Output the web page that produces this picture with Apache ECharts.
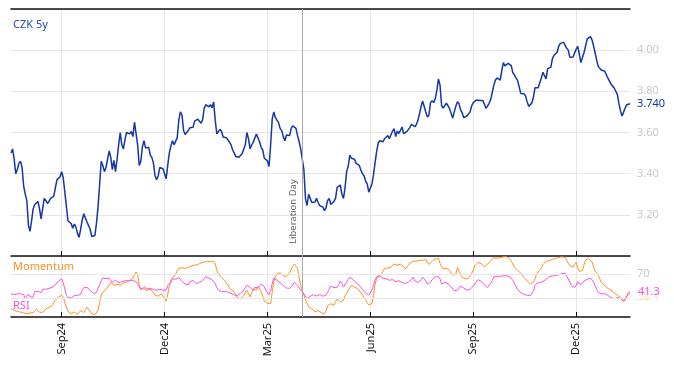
<!DOCTYPE html>
<html><head><meta charset="utf-8">
<script src="https://cdn.jsdelivr.net/npm/echarts@6.0.0/dist/echarts.min.js"></script>
<style>html,body{margin:0;padding:0;background:#fff}#c{width:674px;height:366px}</style>
</head><body><div id="c"></div>
<script>
// ---- data ----
const startDate = '2024-07-18';           // first business day shown
const tickDates = ['2024-09-02','2024-12-02','2025-03-03','2025-06-02','2025-09-01','2025-12-01'];
const tickLabels = ['Sep24','Dec24','Mar25','Jun25','Sep25','Dec25'];
const eventDate = '2025-04-02';
const eventLabel = 'Liberation Day';
const seriesNames = ['CZK 5y','Momentum','RSI'];

const czk5y = [
3.50,3.52,3.47,3.40,3.42,3.45,3.46,3.43,3.34,3.30,
3.27,3.15,3.12,3.17,3.23,3.25,3.244,3.265,3.23,3.18,
3.23,3.28,3.27,3.255,3.265,3.28,3.285,3.29,3.33,3.37,
3.375,3.385,3.41,3.38,3.31,3.24,3.17,3.165,3.158,3.135,
3.155,3.14,3.11,3.09,3.13,3.175,3.205,3.185,3.165,3.16,
3.13,3.095,3.095,3.10,3.16,3.24,3.35,3.46,3.44,3.41,
3.43,3.47,3.51,3.48,3.42,3.465,3.41,3.47,3.54,3.60,
3.54,3.52,3.565,3.60,3.60,3.593,3.605,3.58,3.65,3.656,
3.54,3.44,3.46,3.53,3.56,3.525,3.52,3.528,3.49,3.478,
3.45,3.39,3.37,3.39,3.43,3.43,3.424,3.42,3.375,3.44,
3.50,3.535,3.56,3.54,3.54,3.575,3.66,3.70,3.685,3.61,
3.59,3.59,3.61,3.623,3.62,3.625,3.655,3.66,3.665,3.66,
3.645,3.66,3.716,3.735,3.738,3.725,3.735,3.72,3.748,3.66,
3.593,3.605,3.615,3.605,3.578,3.577,3.575,3.565,3.568,3.54,
3.515,3.50,3.483,3.475,3.48,3.478,3.498,3.507,3.54,3.60,
3.57,3.52,3.54,3.552,3.573,3.592,3.583,3.555,3.528,3.515,
3.475,3.466,3.462,3.435,3.54,3.665,3.70,3.672,3.678,3.648,
3.62,3.609,3.58,3.56,3.588,3.593,3.585,3.62,3.632,3.633,
3.62,3.585,3.556,3.52,3.525,3.42,3.28,3.245,3.30,3.28,
3.26,3.265,3.262,3.28,3.26,3.245,3.236,3.238,3.22,3.235,
3.27,3.28,3.25,3.255,3.265,3.28,3.333,3.338,3.345,3.30,
3.28,3.33,3.41,3.436,3.49,3.475,3.468,3.47,3.45,3.446,
3.44,3.418,3.40,3.39,3.364,3.35,3.31,3.315,3.35,3.395,
3.455,3.51,3.55,3.56,3.56,3.555,3.57,3.572,3.585,3.57,
3.575,3.607,3.618,3.58,3.607,3.595,3.61,3.627,3.594,3.60,
3.604,3.61,3.625,3.64,3.645,3.628,3.638,3.658,3.69,3.725,
3.753,3.753,3.70,3.675,3.685,3.745,3.755,3.745,3.765,3.805,
3.86,3.83,3.73,3.718,3.727,3.742,3.731,3.716,3.72,3.67,
3.70,3.728,3.75,3.74,3.71,3.695,3.672,3.673,3.68,3.68,
3.70,3.73,3.745,3.752,3.758,3.763,3.755,3.753,3.756,3.738,
3.718,3.728,3.742,3.76,3.795,3.83,3.855,3.865,3.868,3.855,
3.90,3.94,3.924,3.926,3.936,3.942,3.925,3.89,3.88,3.865,
3.853,3.85,3.79,3.786,3.788,3.778,3.75,3.727,3.733,3.743,
3.772,3.818,3.821,3.817,3.82,3.865,3.893,3.876,3.86,3.91,
3.906,3.918,3.959,3.975,3.978,3.99,4.02,4.033,4.036,4.038,
4.045,4.01,4.00,3.965,3.97,3.967,3.975,4.005,4.018,4.01,
3.94,3.935,3.99,3.995,4.055,4.062,4.066,4.05,4.02,3.985,
3.95,3.92,3.922,3.902,3.90,3.899,3.898,3.865,3.85,3.836,
3.834,3.816,3.813,3.785,3.74,3.705,3.68,3.70,3.72,3.735,
3.738,3.74];

const momentum = [
14,12.5,11,10,9,8.2,8,7.5,6.5,5.8,
5.5,6,6.5,7,7.5,9,12.6,10.5,8,5.6,
7.5,10.5,13.5,16.3,15.5,14.7,18.5,23.5,28,31,
32.5,34.5,36,32,24,16,9.5,6.5,5.5,6.5,
8,6.5,4.5,6,10.5,9,7.3,12,16,13.8,
9.5,5.2,4.5,3.8,6.5,11,24,35,41,43,
45.5,47.5,52,57,59,52,52.5,53.5,53.5,52,
52.5,56,58,57,56,60,62.5,63.2,66,74,
70,52,46,45.3,46.5,46.8,43.5,41,45.5,46.5,
40,35.2,34.5,34.3,36.5,38,34,30.5,26,37,
51,60.5,64,65.8,70,76,80,81.4,80.5,80,
79.7,78.9,81.5,83.3,83.8,84.3,85,85.3,86,87,
88.5,89.5,90.2,90.9,90.9,90.9,90.9,91,91,87,
77,70,67.5,65,62.5,60,56,52.5,48,44.5,
42.5,41,36,31.5,30.5,30,32,34.5,40,44,
39,33,40,46.2,44.5,44,50,53,42,34,
26,23.5,22.5,20.5,22,40,58,66,71,74,
72.5,70,67.5,66,66.5,68,73,78.5,83,87,
85,80,64,52,43,36,28,22,17,15.5,
13.5,11,8.5,7,10.5,10.5,7,6,5.4,10,
18.5,20.5,21.7,20,19.5,25,29.9,29,25,22,
27,35,39,43.6,47.5,51.7,50.5,49,48,46.5,
44,39.5,36,32,28,23.5,20,17,22,35.4,
54,63,68,69,70.6,75,80,81.6,80,79.5,
82,84.5,87,85.5,85,86.5,86.5,84.5,82.5,78.5,
80,85,88.5,91,91.5,92.5,91.5,90,93,93.5,
92.8,93,94.5,90,86,88,91,93.5,95.2,95.8,
96,88,83,78.8,79.3,79.9,78,76.5,72,68.5,
69.5,70,81.6,75,69.5,65,62,62.5,63.3,63,
63,71.5,77,84.3,87,89.5,88.5,87.5,86,82.5,
84,86.5,89,92.5,95,97,97.5,96.5,96.5,97.3,
97.8,98.6,99.5,98.7,97.9,95.5,92.8,87,81.4,78.8,
77,74.5,71.5,68.5,65,62.5,59.5,56.5,54.5,51.5,
57,63,70,74.5,76,79.5,86,88.5,91,92,
92.5,93,94.5,95.5,96.1,96.5,97.5,97.9,98.7,99.5,
97.5,94.5,88,84.5,82.5,81.8,86,89.5,80.5,75,
74,76,86,93.5,95.5,95.5,94,90.5,82,75.5,
72,68,62,56,54,51.7,49.5,47,45,44,
42.5,39.5,37.5,36,34.5,31.5,28.5,26.5,29,33.5,
37,38.4];

const rsi = [
38,37,36.5,38.5,38,35.5,38,39.5,37,30,
34,37.5,33,30.5,32.5,41.9,42.5,42,40.5,40,
45.5,46,45.5,45.8,47,47.5,48.5,50,52.5,55.5,
59,61.5,62.5,56,46,35.4,32,30,31,32.5,
35,36.4,35.5,34.5,37,44,48,50.6,48.5,47.5,
44,41.5,38.5,36,40,46.5,53,59.9,64,66.5,
63,62.5,63.5,60.5,57,57.5,60.5,60,56,55,
58,59.5,59.5,58.2,59.5,61.5,60,58.2,59,60,
55,50,44.5,47,50,48,46,45.5,47,48.5,
45,42,44,45.2,45.5,46,44,41,44,51.7,
53.5,57,62.5,62,62,63.5,64.5,63.5,58.2,56,
54,53,52.5,58,59,59.9,57,54.5,56,57,
58,59.5,63,66.5,64.5,63.5,62,61,59.5,55,
48,43.8,43,41.9,42,42,41.5,40.8,40,38.5,
37,36,35.4,35.4,35.4,38.5,41.5,44,46,52,
54,48.5,46,43.5,48.5,51.5,47.5,49.5,54,53,
50,43,40,36.5,43,55,63.5,62.5,60.5,59,
56,54.5,52,49.5,47.5,46,47,48.5,52.5,57,
55.5,52,48,43.6,41.5,38,33.5,30,31,34,
35.5,36.4,35,34.3,37.5,37,35.4,34,33,36,
40.5,45,50.5,50,48,47.5,48.8,53,59,55,
49,52,57,61.5,65,63.5,61.5,59,56.5,53.5,
52,49,45,42,39,37,36,37,43.6,52,
60.5,66,68,66.9,65,63.6,63,62.5,61.5,60.2,
60.5,61.3,60.5,58,58.5,59.5,59,56.5,54.5,55,
56,57,58,61.5,65.3,59.5,57,56.5,58.5,61,
65.5,67,59,54,53,57,61,63.5,65.8,67,
66,62.5,54,54,57,56,54.5,52,49.5,47,
43,40.5,44,47,50.5,50.5,47.5,45.5,44,44.2,
45.5,47,50.5,54.3,58,61.3,60.5,58.4,55.5,52.5,
50.5,48,49,55,60,66,67.5,66.2,65,66.7,
68,67.5,66.8,67.5,68,66,64,60,55,50,
45,43,40,37.5,36.8,36.2,35.7,35.2,35,34.3,
42,51.5,55,57.1,56.6,56,58,59.7,62,64.6,
66,66.6,67.3,67.8,68.2,68.5,69.1,70,71,71.6,
72,67,62.5,57,51.7,49.5,48,52,58,57,
53,55,59,61.7,62,62.5,64,63.5,57.5,50.5,
45,40,39,38,38,38,37,35.7,34,31.5,
30.5,30,30.5,31.8,32,30.5,28,25,28.5,34.5,
39.5,41.3];

const rsiLevels = [30, 70];

// ---- build ----
function businessDays(start, count){
  const out = []; const d = new Date(start + 'T00:00:00Z');
  while (out.length < count){
    const w = d.getUTCDay();
    if (w !== 0 && w !== 6) out.push(d.toISOString().slice(0,10));
    d.setUTCDate(d.getUTCDate() + 1);
  }
  return out;
}
const dates = businessDays(startDate, czk5y.length);
const tickMap = {}; tickDates.forEach((d,i)=>{ tickMap[d] = tickLabels[i]; });
const isTick = (idx, val) => tickMap[val] !== undefined;

const FONT = 'Noto Sans';
const BLUE = '#1436a6', ORANGE = '#ff8f22', PINK = '#ff4fd8';
const GRIDC = '#e6e6e6', AXC = '#111';

const chart = echarts.init(document.getElementById('c'), null, {renderer:'canvas'});
chart.setOption({
  animation: false,
  textStyle: {fontFamily: FONT},
  grid: [
    {left: 11, right: 44, top: 9, height: 247},
    {left: 11, right: 44, top: 256, height: 61}
  ],
  xAxis: [
    {gridIndex:0, type:'category', data:dates, boundaryGap:false, position:'bottom',
     axisLine:{lineStyle:{color:AXC, width:1.5}},
     axisTick:{inside:true, length:5, interval:isTick, lineStyle:{color:AXC}},
     axisLabel:{show:false},
     splitLine:{show:true, interval:isTick, lineStyle:{color:GRIDC}}},
    {gridIndex:0, type:'category', data:dates, boundaryGap:false, position:'top',
     axisLine:{lineStyle:{color:AXC, width:1.5}}, axisTick:{show:false}, axisLabel:{show:false}},
    {gridIndex:1, type:'category', data:dates, boundaryGap:false, position:'bottom',
     axisLine:{lineStyle:{color:AXC, width:1.5}},
     axisTick:{inside:true, length:5, interval:isTick, lineStyle:{color:AXC}},
     axisLabel:{interval:isTick, rotate:90, fontSize:11, color:'#111', margin:6,
                formatter: v => tickMap[v] || ''},
     splitLine:{show:true, interval:isTick, lineStyle:{color:GRIDC}}}
  ],
  yAxis: [
    {gridIndex:0, type:'value', position:'right', min:3.0, max:4.2, interval:0.2,
     axisLine:{show:false}, axisTick:{show:false},
     axisLabel:{color:'#c8c8c8', fontSize:11, margin:7,
                formatter: v => (v < 3.1 || v > 4.1) ? '' : v.toFixed(2)},
     splitLine:{lineStyle:{color:GRIDC}}},
    {gridIndex:1, type:'value', position:'right', min:0, max:100, interval:10,
     axisLine:{show:false}, axisTick:{show:false}, splitLine:{show:false},
     axisLabel:{color:'#c8c8c8', fontSize:11, margin:7,
                formatter: v => (Math.round(v) === 70 ? '70' : '')}}
  ],
  series: [
    {name: seriesNames[0], type:'line', xAxisIndex:0, yAxisIndex:0, data:czk5y,
     showSymbol:false, symbol:'none', lineStyle:{color:BLUE, width:1.5}, itemStyle:{color:BLUE},
     endLabel:{show:true, formatter: p => Number(p.value).toFixed(3), color:BLUE, fontSize:11, distance:7},
     markLine:{silent:true, symbol:['none','none'], animation:false,
       lineStyle:{color:'#aaaaaa', type:'solid', width:1},
       label:{show:true, position:'insideStartTop', formatter: eventLabel, color:'#666', fontSize:9.5, distance:[12,4]},
       data:[{xAxis: eventDate}]}},
    {name: seriesNames[1], type:'line', xAxisIndex:2, yAxisIndex:1, data:momentum,
     showSymbol:false, symbol:'none', lineStyle:{color:ORANGE, width:1}, itemStyle:{color:ORANGE},
     endLabel:{show:true, formatter: p => Number(p.value).toFixed(1), color:'rgba(255,143,34,0.45)', fontSize:11, distance:7, offset:[0,3]},
     markLine:{silent:true, symbol:['none','none'], animation:false, label:{show:false},
       data: rsiLevels.map(l => ({yAxis:l, lineStyle:{color:GRIDC, type:'solid', width:1}}))
         .concat([{xAxis: eventDate, lineStyle:{color:'#aaaaaa', type:'solid', width:1}}])}},
    {name: seriesNames[2], type:'line', xAxisIndex:2, yAxisIndex:1, data:rsi,
     showSymbol:false, symbol:'none', lineStyle:{color:PINK, width:1}, itemStyle:{color:PINK},
     endLabel:{show:true, formatter: p => Number(p.value).toFixed(1), color:PINK, fontSize:11, distance:7,
               backgroundColor:'rgba(255,255,255,0.55)', padding:[1,1]}}
  ],
  graphic: [
    {type:'text', left:13, top:19, style:{text: seriesNames[0], fill:'#2746b0', font:'11px "Noto Sans"'}},
    {type:'text', left:13, top:261, style:{text: seriesNames[1], fill:ORANGE, font:'11px "Noto Sans"'}},
    {type:'text', left:11, top:289, style:{text: seriesNames[2], fill:PINK, font:'11px "Noto Sans"',
      backgroundColor:'rgba(255,255,255,0.7)', padding:[11,5,5,2]}}
  ]
});
</script>
</body></html>
